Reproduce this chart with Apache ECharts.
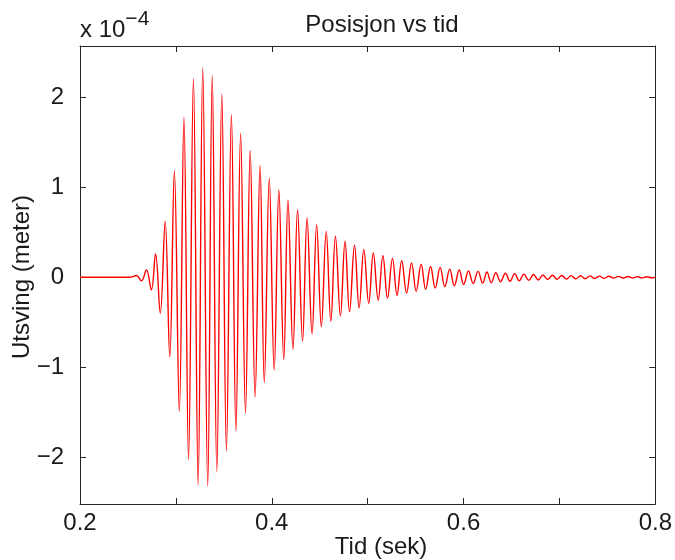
<!DOCTYPE html>
<html>
<head>
<meta charset="utf-8">
<script src="https://cdn.jsdelivr.net/npm/echarts@6/dist/echarts.min.js"></script>
<style>
html,body{margin:0;padding:0;background:#fff;}
#c{width:675px;height:560px;}
</style>
</head>
<body>
<div id="c"></div>
<script>
// Time (s) of each point (flat start, then peaks/troughs, flat end)
var timeSec = [0.2, 0.252,
  0.2589,0.2641,0.2693,0.2744,0.2788,0.2837,0.2888,0.2936,0.2984,0.3036,
  0.3084,0.3132,0.3183,0.3232,0.3280,0.3332,0.3379,0.3427,0.3479,0.3527,
  0.3579,0.3626,0.3675,0.3726,0.3775,0.3826,0.3878,0.3922,0.3974,0.4025,
  0.4074,0.4125,0.4169,0.4221,0.4269,0.4321,0.4368,0.4420,0.4468,0.4517,
  0.4568,0.4616,0.4664,0.4716,0.4764,0.4811,0.4863,0.4911,0.4960,0.5011,
  0.5059,0.5110,0.5159,0.5207,0.5259,0.5306,0.5355,0.5406,0.5458,0.5506,
  0.5558,0.5605,0.5656,0.5705,0.5756,0.5805,0.5856,0.5904,0.5955,0.6001,
  0.6052,0.6100,0.6151,0.6200,0.6244,0.6289,0.6337,0.6385,0.6437,0.6485,
  0.6533,0.6581,0.6629,0.6681,0.6729,0.6780,0.6828,0.6877,0.6928,0.6976,
  0.7024,0.7073,0.7122,0.7171,0.7220,0.7270,0.7319,0.7368,0.7417,0.7467,
  0.7516,0.7565,0.7614,0.7664,0.7713,0.7762,0.7811,0.7861,0.7910,0.7959,
  0.8];
// Displacement in units of 1e-4 m (axis shows "x 10^-4")
var utsving = [0, 0,
  0.02,-0.04,0.08,-0.14,0.26,-0.40,0.62,-0.885,1.18,-1.49,
  1.78,-2.03,2.21,-2.31,2.33,-2.32,2.24,-2.16,2.04,-1.93,
  1.81,-1.71,1.60,-1.51,1.41,-1.33,1.24,-1.17,1.10,-1.03,
  0.97,-0.915,0.86,-0.80,0.75,-0.71,0.66,-0.63,0.585,-0.55,
  0.51,-0.49,0.455,-0.43,0.40,-0.385,0.355,-0.34,0.31,-0.29,
  0.27,-0.255,0.24,-0.23,0.21,-0.20,0.185,-0.175,0.16,-0.155,
  0.145,-0.135,0.12,-0.12,0.11,-0.105,0.09,-0.095,0.08,-0.08,
  0.07,-0.07,0.065,-0.065,0.058,-0.06,0.05,-0.05,0.045,-0.045,
  0.04,-0.04,0.035,-0.035,0.03,-0.03,0.025,-0.025,0.022,-0.022,
  0.02,-0.02,0.018,-0.018,0.016,-0.016,0.015,-0.014,0.013,-0.012,
  0.011,-0.010,0.010,-0.009,0.008,-0.008,0.007,-0.007,0.006,-0.006,
  0];
var xTicks = [0.2,0.3,0.4,0.5,0.6,0.7,0.8];
var xTickLabels = [0.2,0.4,0.6,0.8];
var yTicks = [-2,-1,0,1,2];

var FONT = '"Liberation Sans", Arial, Helvetica, sans-serif';
var TXT = '#1a1a1a';
var AX = '#262626';
var FS = 24;

var seriesData = timeSec.map(function(t,i){ return [t, utsving[i]]; });

var chart = echarts.init(document.getElementById('c'), null, {renderer:'canvas'});

function xAxisCfg(pos, showLabels){
  return {
    type:'value', position:pos, min:0.2, max:0.8,
    axisLine:{show:true, onZero:false, lineStyle:{color:AX, width:1}},
    axisTick:{show:true, inside:true, length:6, customValues:xTicks, lineStyle:{color:AX}},
    axisLabel:{show:showLabels, customValues:xTickLabels, margin:7,
      fontFamily:FONT, fontSize:FS, color:TXT,
      formatter:function(v){ return v.toFixed(1); }},
    splitLine:{show:false}
  };
}
function yAxisCfg(pos, showLabels){
  return {
    type:'value', position:pos, min:-2.52, max:2.57,
    axisLine:{show:true, onZero:false, lineStyle:{color:AX, width:1}},
    axisTick:{show:true, inside:true, length:6, customValues:yTicks, lineStyle:{color:AX}},
    axisLabel:{show:showLabels, customValues:yTicks, margin:16,
      fontFamily:FONT, fontSize:FS, color:TXT,
      formatter:function(v){ return v < 0 ? '\u2212' + Math.abs(v) : String(v); }},
    splitLine:{show:false}
  };
}

chart.setOption({
  animation:false,
  backgroundColor:'#fff',
  grid:{left:80, right:13, top:46, bottom:56, containLabel:false},
  xAxis:[xAxisCfg('bottom', true), xAxisCfg('top', false)],
  yAxis:[yAxisCfg('left', true), yAxisCfg('right', false)],
  series:[{
    type:'line', xAxisIndex:0, yAxisIndex:0,
    data:seriesData, showSymbol:false, smooth:0.4,
    lineStyle:{color:'#ff0000', width:1.4},
    clip:true
  }],
  graphic:[
    {type:'text', x:382, y:25, style:{text:'Posisjon vs tid', fontFamily:FONT, fontSize:FS, fill:TXT, align:'center', verticalAlign:'middle'}},
    {type:'text', x:381, y:547, style:{text:'Tid (sek)', fontFamily:FONT, fontSize:FS, fill:TXT, align:'center', verticalAlign:'middle'}},
    {type:'text', x:22, y:277, rotation:Math.PI/2, style:{text:'Utsving (meter)', fontFamily:FONT, fontSize:FS, fill:TXT, align:'center', verticalAlign:'middle'}},
    {type:'text', x:80, y:30, style:{
      text:'{b|x 10}{s|\u22124}', verticalAlign:'middle', align:'left',
      rich:{
        b:{fontFamily:FONT, fontSize:FS, fill:TXT, color:TXT},
        s:{fontFamily:FONT, fontSize:21, fill:TXT, color:TXT, padding:[0,0,22,0]}
      }}}
  ]
});
</script>
</body>
</html>
